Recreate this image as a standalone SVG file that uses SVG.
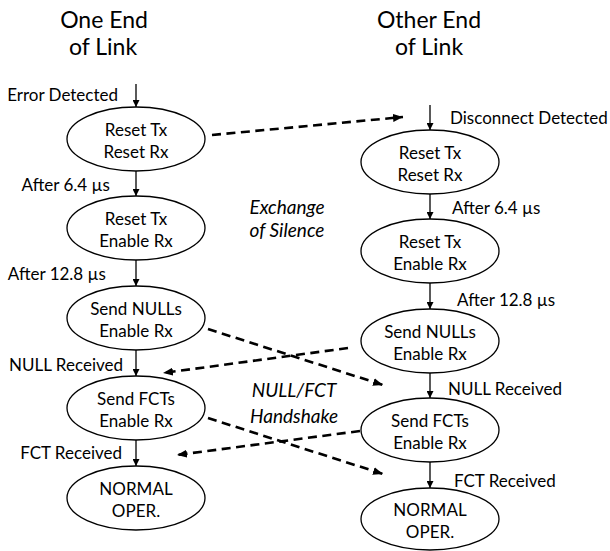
<svg xmlns="http://www.w3.org/2000/svg" width="610" height="551" viewBox="0 0 610 551">
<defs>
<style>
text{font-family:Lato,"Open Sans","Liberation Sans",sans-serif;fill:#000}
.t{font-size:23px;text-anchor:middle}
.n{font-size:17px;text-anchor:middle}
.l{font-size:17px}
.le{font-size:17px;text-anchor:end}
.i{font-size:19px;font-style:italic;text-anchor:middle}
ellipse{fill:#fff;stroke:#000;stroke-width:1.3}
.s{stroke:#000;stroke-width:1.3;fill:none}
.d{stroke:#000;stroke-width:2.6;fill:none;stroke-dasharray:9 5.5}
</style>
<marker id="a" markerUnits="userSpaceOnUse" markerWidth="7" markerHeight="7" refX="7" refY="3.5" orient="auto"><path d="M0,0 L7,3.5 L0,7 z" fill="#000"/></marker>
<marker id="b" markerUnits="userSpaceOnUse" markerWidth="10" markerHeight="8" refX="10" refY="4" orient="auto"><path d="M0,0 L10,4 L0,8 z" fill="#000"/></marker>
</defs>
<g id="titles">
<text class="t" x="104" y="28">One End</text>
<text class="t" x="103" y="55">of Link</text>
<text class="t" x="429" y="28">Other End</text>
<text class="t" x="429" y="55">of Link</text>
</g>
<g id="connectors">
<line class="s" x1="136" y1="84" x2="136" y2="107" marker-end="url(#a)"/>
<line class="s" x1="136" y1="171" x2="136" y2="196" marker-end="url(#a)"/>
<line class="s" x1="136" y1="260" x2="136" y2="286" marker-end="url(#a)"/>
<line class="s" x1="136" y1="350" x2="136" y2="376" marker-end="url(#a)"/>
<line class="s" x1="136" y1="440" x2="136" y2="466" marker-end="url(#a)"/>
<line class="s" x1="430" y1="105" x2="430" y2="130" marker-end="url(#a)"/>
<line class="s" x1="430" y1="194" x2="430" y2="219" marker-end="url(#a)"/>
<line class="s" x1="430" y1="283" x2="430" y2="309" marker-end="url(#a)"/>
<line class="s" x1="430" y1="373" x2="430" y2="398" marker-end="url(#a)"/>
<line class="s" x1="430" y1="462" x2="430" y2="488" marker-end="url(#a)"/>
<line class="d" x1="212" y1="135" x2="403" y2="117" marker-end="url(#b)"/>
<line class="d" x1="208" y1="329" x2="383" y2="385" marker-end="url(#b)"/>
<line class="d" x1="348" y1="348" x2="163" y2="373" marker-end="url(#b)"/>
<line class="d" x1="208" y1="418" x2="383" y2="474" marker-end="url(#b)"/>
<line class="d" x1="360" y1="431" x2="177" y2="455" marker-end="url(#b)"/>
</g>
<g id="labels">
<text class="le" x="118" y="101">Error Detected</text>
<text class="le" x="110" y="191">After 6.4 µs</text>
<text class="le" x="106" y="280">After 12.8 µs</text>
<text class="le" x="123" y="371">NULL Received</text>
<text class="le" x="122" y="459">FCT Received</text>
<text class="l" x="450" y="124">Disconnect Detected</text>
<text class="l" x="452" y="214">After 6.4 µs</text>
<text class="l" x="457" y="306">After 12.8 µs</text>
<text class="l" x="448" y="395">NULL Received</text>
<text class="l" x="454" y="487">FCT Received</text>
<text class="i" x="287" y="214">Exchange</text>
<text class="i" x="287" y="237">of Silence</text>
<text class="i" x="294" y="397">NULL/FCT</text>
<text class="i" x="294" y="423">Handshake</text>
</g>
<g id="n1"><ellipse cx="136" cy="139" rx="69" ry="32"/><text class="n" x="136" y="136">Reset Tx</text><text class="n" x="136" y="158">Reset Rx</text></g>
<g id="n2"><ellipse cx="136" cy="228" rx="69" ry="32"/><text class="n" x="136" y="225">Reset Tx</text><text class="n" x="136" y="247">Enable Rx</text></g>
<g id="n3"><ellipse cx="136" cy="318" rx="69" ry="32"/><text class="n" x="136" y="315">Send NULLs</text><text class="n" x="136" y="337">Enable Rx</text></g>
<g id="n4"><ellipse cx="136" cy="408" rx="69" ry="32"/><text class="n" x="136" y="405">Send FCTs</text><text class="n" x="136" y="427">Enable Rx</text></g>
<g id="n5"><ellipse cx="136" cy="498" rx="69" ry="32"/><text class="n" x="136" y="495">NORMAL</text><text class="n" x="136" y="517">OPER.</text></g>
<g id="m1"><ellipse cx="430" cy="162" rx="69" ry="32"/><text class="n" x="430" y="159">Reset Tx</text><text class="n" x="430" y="181">Reset Rx</text></g>
<g id="m2"><ellipse cx="430" cy="251" rx="69" ry="32"/><text class="n" x="430" y="248">Reset Tx</text><text class="n" x="430" y="270">Enable Rx</text></g>
<g id="m3"><ellipse cx="430" cy="341" rx="69" ry="32"/><text class="n" x="430" y="338">Send NULLs</text><text class="n" x="430" y="360">Enable Rx</text></g>
<g id="m4"><ellipse cx="430" cy="430" rx="69" ry="32"/><text class="n" x="430" y="427">Send FCTs</text><text class="n" x="430" y="449">Enable Rx</text></g>
<g id="m5"><ellipse cx="430" cy="519" rx="69" ry="31"/><text class="n" x="430" y="516">NORMAL</text><text class="n" x="430" y="538">OPER.</text></g>
</svg>
